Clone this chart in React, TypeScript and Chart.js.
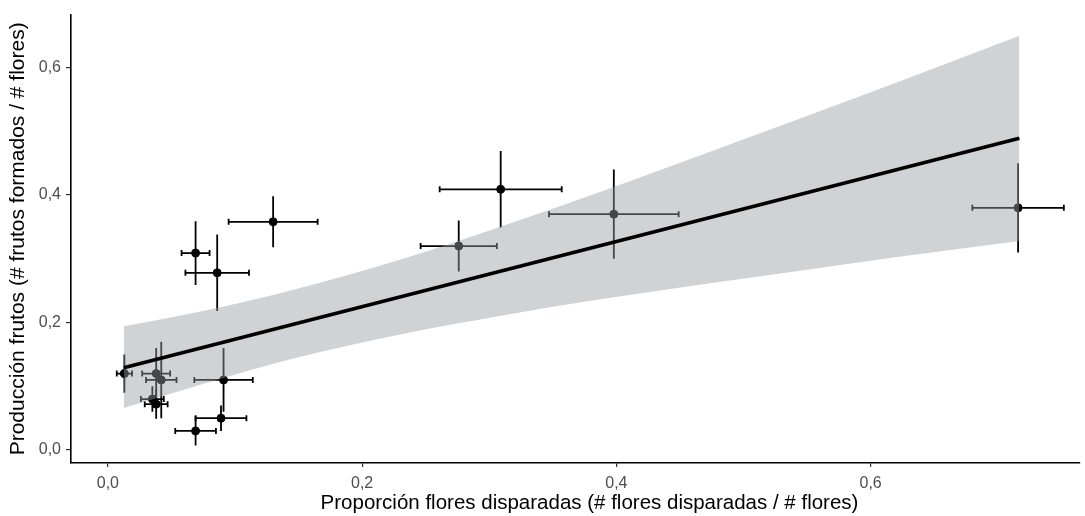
import React, { useEffect, useRef } from "react";
import { Chart, registerables } from "chart.js";

Chart.register(...registerables);

// Observed points (proportion flowers triggered vs fruit production)
const xValues = [0.013, 0.038, 0.042, 0.035, 0.038, 0.091, 0.089, 0.069, 0.069, 0.086, 0.130, 0.309, 0.276, 0.398, 0.716];
const yValues = [0.120, 0.120, 0.110, 0.080, 0.072, 0.110, 0.050, 0.030, 0.309, 0.278, 0.358, 0.409, 0.320, 0.370, 0.380];
const xErrors = [0.006, 0.011, 0.012, 0.009, 0.009, 0.023, 0.020, 0.016, 0.011, 0.025, 0.035, 0.048, 0.030, 0.051, 0.036];
const yErrors = [0.030, 0.040, 0.060, 0.020, 0.023, 0.050, 0.020, 0.023, 0.050, 0.060, 0.040, 0.060, 0.040, 0.070, 0.070];

// Linear fit
const fitX = [0.0125, 0.717];
const fitY = [0.129, 0.489];

// Confidence band
const bandX = [0.0125, 0.072, 0.143, 0.229, 0.307, 0.386, 0.464, 0.543, 0.621, 0.717];
const bandUpper = [0.194, 0.217, 0.250, 0.298, 0.349, 0.404, 0.461, 0.519, 0.577, 0.650];
const bandLower = [0.066, 0.102, 0.142, 0.181, 0.210, 0.236, 0.259, 0.281, 0.303, 0.328];

const xTicks = [0, 0.2, 0.4, 0.6];
const yTicks = [0, 0.2, 0.4, 0.6];

const xTitle = "Proporción flores disparadas (# flores disparadas / # flores)";
const yTitle = "Producción frutos (# frutos formados / # flores)";

const FONT = "'Liberation Sans', Arial, sans-serif";
const fmt = (v: number) => v.toFixed(1).replace(".", ",");

const errorBarPlugin = {
  id: "errorBars",
  beforeDatasetDraw(chart: any, args: any) {
    if (args.index !== 0) return;
    const { ctx, scales } = chart;
    const xs = scales.x;
    const ys = scales.y;
    ctx.save();
    ctx.strokeStyle = "#000";
    ctx.lineWidth = 1.8;
    ctx.lineCap = "butt";
    for (let i = 0; i < xValues.length; i++) {
      const px = xs.getPixelForValue(xValues[i]);
      const py = ys.getPixelForValue(yValues[i]);
      const y0 = ys.getPixelForValue(yValues[i] - yErrors[i]);
      const y1 = ys.getPixelForValue(yValues[i] + yErrors[i]);
      const x0 = xs.getPixelForValue(xValues[i] - xErrors[i]);
      const x1 = xs.getPixelForValue(xValues[i] + xErrors[i]);
      ctx.beginPath();
      ctx.moveTo(px, y0);
      ctx.lineTo(px, y1);
      ctx.moveTo(x0, py);
      ctx.lineTo(x1, py);
      ctx.moveTo(x0, py - 3);
      ctx.lineTo(x0, py + 3);
      ctx.moveTo(x1, py - 3);
      ctx.lineTo(x1, py + 3);
      ctx.stroke();
    }
    ctx.restore();
  },
};

// x-axis title (the original panel is centred slightly right of the visible axis)
const xTitlePlugin = {
  id: "xTitle",
  afterDraw(chart: any) {
    const { ctx, chartArea } = chart;
    ctx.save();
    ctx.fillStyle = "#000";
    ctx.font = `20.5px ${FONT}`;
    ctx.textAlign = "center";
    ctx.textBaseline = "alphabetic";
    ctx.fillText(xTitle, (chartArea.left + chartArea.right) / 2 + 14, chart.height - 7);
    ctx.restore();
  },
};

export default function App() {
  const canvasRef = useRef<HTMLCanvasElement | null>(null);

  useEffect(() => {
    if (!canvasRef.current) return;
    Chart.defaults.font.family = FONT;
    const chart = new Chart(canvasRef.current, {
      type: "scatter",
      data: {
        datasets: [
          {
            label: "points",
            data: xValues.map((x, i) => ({ x, y: yValues[i] })),
            backgroundColor: "#000",
            borderColor: "#000",
            pointRadius: 4,
            pointHoverRadius: 4,
            order: 3,
          } as any,
          {
            label: "upper",
            data: bandX.map((x, i) => ({ x, y: bandUpper[i] })),
            showLine: true,
            pointRadius: 0,
            borderWidth: 0,
            borderColor: "rgba(0,0,0,0)",
            backgroundColor: "rgba(150,158,165,0.45)",
            fill: "+1",
            cubicInterpolationMode: "monotone",
            order: 2,
          },
          {
            label: "lower",
            data: bandX.map((x, i) => ({ x, y: bandLower[i] })),
            showLine: true,
            pointRadius: 0,
            borderWidth: 0,
            borderColor: "rgba(0,0,0,0)",
            fill: false,
            cubicInterpolationMode: "monotone",
            order: 2,
          },
          {
            label: "fit",
            data: fitX.map((x, i) => ({ x, y: fitY[i] })),
            showLine: true,
            pointRadius: 0,
            borderWidth: 3.5,
            borderColor: "#000",
            fill: false,
            order: 1,
          },
        ],
      },
      options: {
        animation: false,
        responsive: false,
        layout: { padding: { top: 13, right: 2, left: 0, bottom: 0 } },
        plugins: {
          legend: { display: false },
          tooltip: { enabled: false },
          filler: { propagate: false },
        },
        scales: {
          x: {
            type: "linear",
            min: -0.029,
            max: 0.7647,
            afterBuildTicks: (s: any) => {
              s.ticks = xTicks.map((v) => ({ value: v }));
            },
            afterFit: (s: any) => {
              s.height = 53;
            },
            grid: { drawOnChartArea: false, drawTicks: true, tickLength: 4, color: "#333", lineWidth: 1.2 },
            border: { display: true, color: "#000", width: 1.6 },
            ticks: {
              color: "#4d4d4d",
              font: { size: 16 },
              padding: 7,
              callback: (v: any) => fmt(Number(v)),
              maxRotation: 0,
            },
            title: { display: false },
          },
          y: {
            type: "linear",
            min: -0.0203,
            max: 0.683,
            afterBuildTicks: (s: any) => {
              s.ticks = yTicks.map((v) => ({ value: v }));
            },
            afterFit: (s: any) => {
              s.width = 71;
            },
            grid: { drawOnChartArea: false, drawTicks: true, tickLength: 5, color: "#333", lineWidth: 1.2 },
            border: { display: true, color: "#000", width: 1.6 },
            ticks: {
              color: "#4d4d4d",
              font: { size: 16 },
              padding: 5,
              callback: (v: any) => fmt(Number(v)),
            },
            title: {
              display: true,
              text: yTitle,
              color: "#000",
              font: { size: 21 },
              padding: { top: 6, bottom: 0 },
            },
          },
        },
      } as any,
      plugins: [errorBarPlugin, xTitlePlugin],
    });
    return () => chart.destroy();
  }, []);

  return (
    <div style={{ position: "absolute", left: 0, top: 0, width: 1085, height: 516, background: "#fff" }}>
      <canvas ref={canvasRef} width={1085} height={516} />
    </div>
  );
}
